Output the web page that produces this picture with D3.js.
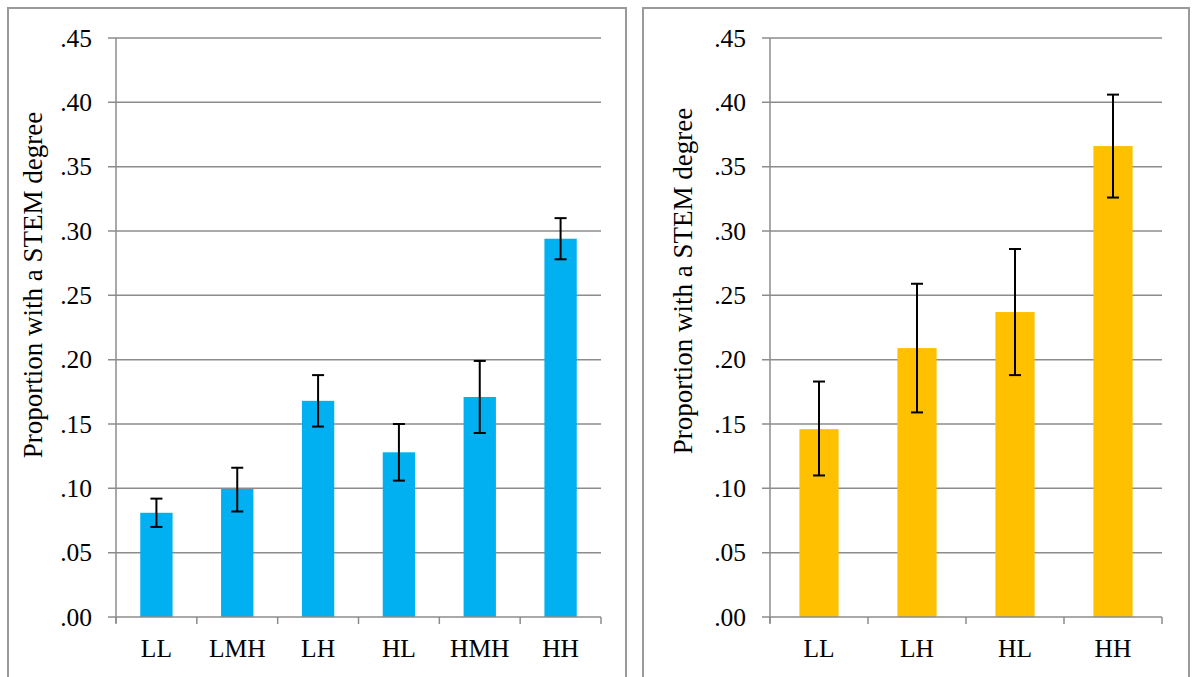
<!DOCTYPE html>
<html><head><meta charset="utf-8">
<script src="https://cdn.jsdelivr.net/npm/d3@7"></script>
<style>body{margin:0;background:#fff}svg{display:block}</style>
</head><body>
<svg id="c" width="1193" height="677"></svg>
<script>
const leftCategories = ["LL","LMH","LH","HL","HMH","HH"];
const leftValues = [0.081, 0.0995, 0.168, 0.128, 0.171, 0.294];
const leftLow = [0.070, 0.082, 0.148, 0.106, 0.143, 0.278];
const leftHigh = [0.092, 0.116, 0.188, 0.150, 0.199, 0.310];

const rightCategories = ["LL","LH","HL","HH"];
const rightValues = [0.146, 0.209, 0.237, 0.366];
const rightLow = [0.110, 0.159, 0.188, 0.326];
const rightHigh = [0.183, 0.259, 0.286, 0.406];

const yTicks = [0,0.05,0.10,0.15,0.20,0.25,0.30,0.35,0.40,0.45];
const yLabel = "Proportion with a STEM degree";

const svg = d3.select("#c");
const font = "'Liberation Serif','Times New Roman',serif";

function panel(cfg){
  const g = svg.append("g");
  g.append("rect").attr("x",cfg.bx).attr("y",8).attr("width",cfg.bw).attr("height",700)
    .attr("fill","none").attr("stroke","#9a9a9a").attr("stroke-width",2);
  const x = d3.scaleBand().domain(cfg.cats).range([cfg.x0,cfg.x1]).paddingInner(0.6).paddingOuter(0.3);
  const y = d3.scaleLinear().domain([0,0.45]).range([617,38]);
  g.selectAll(".grid").data(yTicks.slice(1)).enter().append("line")
    .attr("x1",cfg.x0-8).attr("x2",cfg.x1).attr("y1",d=>y(d)).attr("y2",d=>y(d))
    .attr("stroke","#8c8c8c").attr("stroke-width",1.5);
  g.selectAll(".yt").data(yTicks).enter().append("text")
    .attr("x",cfg.x0-24).attr("y",d=>y(d)+8.5).attr("text-anchor","end")
    .attr("font-family",font).attr("font-size",25.5).attr("fill","#000")
    .text(d=>d3.format(".2f")(d).replace(/^0/,""));
  g.selectAll(".bar").data(cfg.vals).enter().append("rect")
    .attr("x",(d,i)=>x(cfg.cats[i])).attr("width",x.bandwidth())
    .attr("y",d=>y(d)).attr("height",d=>y(0)-y(d)).attr("fill",cfg.color);
  g.append("line").attr("x1",cfg.x0).attr("x2",cfg.x0).attr("y1",y(0.45)).attr("y2",y(0)+6)
    .attr("stroke","#8c8c8c").attr("stroke-width",1.5);
  g.append("line").attr("x1",cfg.x0-8).attr("x2",cfg.x1).attr("y1",y(0)).attr("y2",y(0))
    .attr("stroke","#8c8c8c").attr("stroke-width",1.5);
  const step = (cfg.x1-cfg.x0)/cfg.cats.length;
  const bounds = d3.range(cfg.cats.length+1).map(i=>cfg.x0+i*step);
  g.selectAll(".xt").data(bounds).enter().append("line")
    .attr("x1",d=>d).attr("x2",d=>d).attr("y1",y(0)).attr("y2",y(0)+7)
    .attr("stroke","#8c8c8c").attr("stroke-width",1.5);
  cfg.cats.forEach((c,i)=>{
    const cx = x(c)+x.bandwidth()/2;
    g.append("line").attr("x1",cx).attr("x2",cx).attr("y1",y(cfg.lo[i])).attr("y2",y(cfg.hi[i]))
      .attr("stroke","#000").attr("stroke-width",2);
    [cfg.lo[i],cfg.hi[i]].forEach(v=>{
      g.append("line").attr("x1",cx-6).attr("x2",cx+6).attr("y1",y(v)).attr("y2",y(v))
        .attr("stroke","#000").attr("stroke-width",2);
    });
  });
  g.selectAll(".xl").data(cfg.cats).enter().append("text")
    .attr("x",d=>x(d)+x.bandwidth()/2).attr("y",657).attr("text-anchor","middle")
    .attr("font-family",font).attr("font-size",25.5).attr("fill","#000").text(d=>d);
  g.append("text").attr("transform",`translate(${cfg.lx},${cfg.ly}) rotate(-90)`)
    .attr("text-anchor","middle").attr("font-family",font).attr("font-size",27).attr("fill","#000")
    .text(yLabel);
}

panel({bx:8,bw:618,x0:116,x1:601,cats:leftCategories,vals:leftValues,lo:leftLow,hi:leftHigh,color:"#00b0f0",lx:42,ly:285});
panel({bx:643,bw:546,x0:770,x1:1162,cats:rightCategories,vals:rightValues,lo:rightLow,hi:rightHigh,color:"#ffc000",lx:692,ly:281});
</script>
</body></html>
